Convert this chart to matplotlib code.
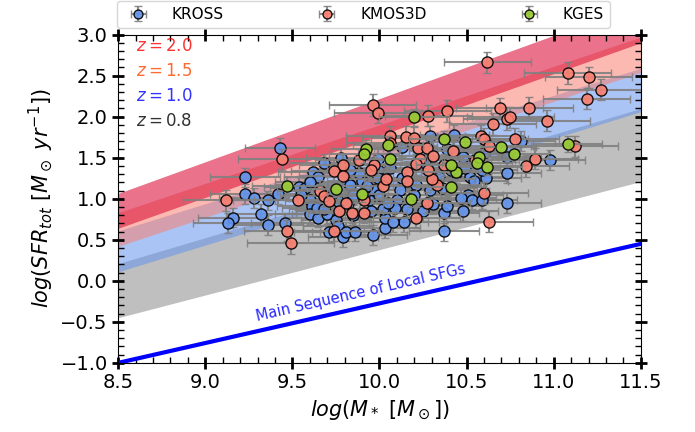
import numpy as np
import matplotlib.pyplot as plt

# KROSS galaxies: stellar mass, total SFR (log)
kross_m = [9.43, 9.23, 9.68, 9.78, 9.62, 9.65, 9.23, 9.28, 9.36, 9.42, 9.16, 9.13, 9.32, 9.36, 9.46,
           9.54, 9.57, 9.60, 9.61, 9.60, 9.65, 9.64, 9.70, 9.68, 9.76, 9.75, 9.76, 9.71, 9.79, 9.81, 9.82,
           10.81, 10.98, 10.73, 10.43, 10.29, 10.13, 10.39, 10.48, 10.60, 9.99, 10.73, 10.73, 10.37,
           10.61, 10.59, 10.52, 10.54, 10.49, 10.51, 10.47, 10.53, 10.59, 10.48, 10.44, 10.41, 10.34,
           10.36, 10.37, 10.39, 10.31, 10.29, 10.26, 10.14, 10.16, 10.12, 10.10, 10.09, 10.03, 10.03,
           10.02, 10.06, 9.99, 9.99, 9.97, 9.94, 9.95, 9.96, 9.86, 9.91, 9.90, 9.88, 9.83, 9.83, 9.82,
           10.08, 10.21, 10.13, 9.55, 9.72, 9.85, 9.93, 10.00, 9.60, 9.85, 10.05, 10.20, 10.25]
kross_sfr = [1.62, 1.26, 1.43, 1.50, 1.32, 1.26, 1.06, 1.01, 0.98, 1.06, 0.77, 0.70, 0.81, 0.68, 0.70,
             1.14, 1.13, 0.99, 0.91, 0.81, 0.77, 0.89, 0.81, 0.87, 0.97, 0.74, 0.67, 0.59, 0.53, 0.60, 1.19,
             1.70, 1.47, 1.51, 1.78, 1.77, 1.63, 1.60, 1.51, 1.56, 1.49, 1.31, 0.95, 0.61,
             1.25, 1.35, 1.27, 1.21, 1.37, 1.05, 1.01, 0.99, 0.99, 0.85, 1.31, 1.35, 1.27,
             1.13, 0.83, 0.91, 0.93, 1.11, 1.43, 0.72, 0.87, 1.11, 0.99, 0.89, 0.64, 0.77,
             0.87, 1.37, 1.35, 1.25, 1.11, 0.99, 0.85, 0.56, 0.60, 1.05, 1.21, 1.31, 1.17, 1.35, 0.95,
             0.72, 1.17, 1.25, 1.05, 1.05, 1.05, 1.15, 1.05, 1.20, 0.80, 0.95, 1.05, 0.85]

# KMOS3D galaxies
kmos_m = [9.44, 9.79, 9.74, 9.79, 9.12, 9.47, 9.49, 9.53, 9.66, 9.68, 9.71, 9.77, 9.74, 9.81,
          10.62, 11.08, 11.20, 11.27, 11.19, 9.96, 9.99, 10.28, 10.39, 10.69, 10.86, 10.96, 10.73,
          10.75, 10.65, 10.58, 10.60, 10.63, 10.78, 11.12, 10.89, 10.15, 10.20, 10.06, 10.06, 10.22,
          10.27, 10.42, 9.88, 10.31, 10.23, 10.55, 10.84, 10.60, 10.63, 10.37, 10.33, 10.30, 10.28,
          10.27, 10.21, 10.16, 10.16, 10.02, 10.04, 9.97, 9.95, 9.91, 9.84, 9.91, 10.21]
kmos_sfr = [1.48, 1.41, 1.34, 1.28, 0.98, 0.61, 0.46, 0.99, 1.10, 1.03, 0.97, 0.85, 0.61, 0.95,
            2.66, 2.53, 2.48, 2.33, 2.22, 2.14, 2.05, 2.01, 2.07, 2.10, 2.11, 1.95, 1.97,
            1.99, 1.91, 1.77, 1.73, 1.64, 1.73, 1.64, 1.49, 1.75, 1.74, 1.76, 1.68, 1.62,
            1.62, 1.58, 1.47, 1.52, 1.49, 1.47, 1.40, 1.07, 0.72, 1.41, 1.17, 1.24, 1.35,
            0.95, 0.77, 1.33, 1.21, 1.15, 1.24, 1.41, 1.35, 0.99, 0.83, 0.83, 1.42]

# KGES galaxies
kges_m = [9.47, 9.75, 10.20, 11.08, 10.70, 10.77, 10.49, 10.37, 10.05, 9.92, 9.91, 10.06, 10.57,
          10.56, 10.62, 10.44, 10.41, 10.41, 10.18, 9.90]
kges_sfr = [1.16, 1.12, 1.99, 1.67, 1.63, 1.55, 1.69, 1.73, 1.66, 1.61, 1.54, 1.49, 1.51,
            1.44, 1.39, 1.32, 1.41, 1.14, 1.00, 1.06]

# typical uncertainties (dex)
kross_err = (0.2, 0.12)
kmos_err = (0.25, 0.13)
kges_err = (0.2, 0.1)

# main-sequence bands: SFR at logM = 8.5 and 11.5 (lower, upper)
band_m = [8.5, 11.5]
band_z = ['2.0', '1.5', '1.0', '0.8']
band_lo = [[0.64, 2.90], [0.42, 2.54], [0.11, 2.06], [-0.45, 1.21]]
band_hi = [[1.065, 3.375], [0.83, 2.97], [0.61, 2.59], [0.21, 2.10]]
band_col = ['crimson', 'salmon', 'cornflowerblue', 'grey']
band_alpha = [0.6, 0.55, 0.55, 0.5]
label_col = ['red', 'orangered', 'blue', 'black']

# local main sequence
local_m = [8.5, 11.5]
local_sfr = [-1.0, 0.45]

fig = plt.figure(figsize=(6.95, 4.32), dpi=100)
ax = fig.add_axes([0.170, 0.160, 0.752, 0.760])

for i in [3, 2, 1, 0]:
    ax.fill_between(band_m, band_lo[i], band_hi[i], color=band_col[i], alpha=band_alpha[i],
                    lw=0, zorder=1)

ax.plot(local_m, local_sfr, color='blue', lw=3, zorder=2)
ax.text(9.3, -0.53, 'Main Sequence of Local SFGs', color='blue', fontsize=10.5,
        rotation=12.9, rotation_mode='anchor', ha='left', va='bottom', alpha=0.85)

ebkw = dict(fmt='o', ms=8, mec='black', mew=1.0, ecolor='grey', elinewidth=1.5,
            capsize=3, capthick=1.5, alpha=0.9)
h1 = ax.errorbar(kross_m, kross_sfr, xerr=kross_err[0], yerr=kross_err[1],
                 mfc='cornflowerblue', label='KROSS', zorder=3, **ebkw)
h2 = ax.errorbar(kmos_m, kmos_sfr, xerr=kmos_err[0], yerr=kmos_err[1],
                 mfc='salmon', label='KMOS3D', zorder=4, **ebkw)
h3 = ax.errorbar(kges_m, kges_sfr, xerr=kges_err[0], yerr=kges_err[1],
                 mfc='yellowgreen', label='KGES', zorder=5, **ebkw)

for i, z in enumerate(band_z):
    ax.text(8.6, 2.86 - 0.305 * i, '$z = $' + z, color=label_col[i], fontsize=12,
            alpha=0.8, va='center')

ax.set_xlim(8.5, 11.5)
ax.set_ylim(-1.0, 3.0)
ax.set_xticks(np.arange(8.5, 11.51, 0.5))
ax.set_yticks(np.arange(-1.0, 3.01, 0.5))
ax.minorticks_on()
ax.tick_params(which='major', direction='inout', length=8, width=2, labelsize=14,
               top=True, right=True)
ax.tick_params(which='minor', direction='in', length=4, width=1, top=True, right=True)
ax.set_xlabel(r'$log(M_*\ [M_\odot])$', fontsize=15)
ax.set_ylabel(r'$log(SFR_{tot}\ [M_\odot\ yr^{-1}])$', fontsize=15)

fig.legend(handles=[h1, h2, h3], loc='lower left', bbox_to_anchor=(0.168, 0.935, 0.71, 0.06),
           mode='expand', ncol=3, fontsize=11, borderaxespad=0, handletextpad=1.2,
           markerscale=0.8)

fig.savefig('out.png', dpi=100)
